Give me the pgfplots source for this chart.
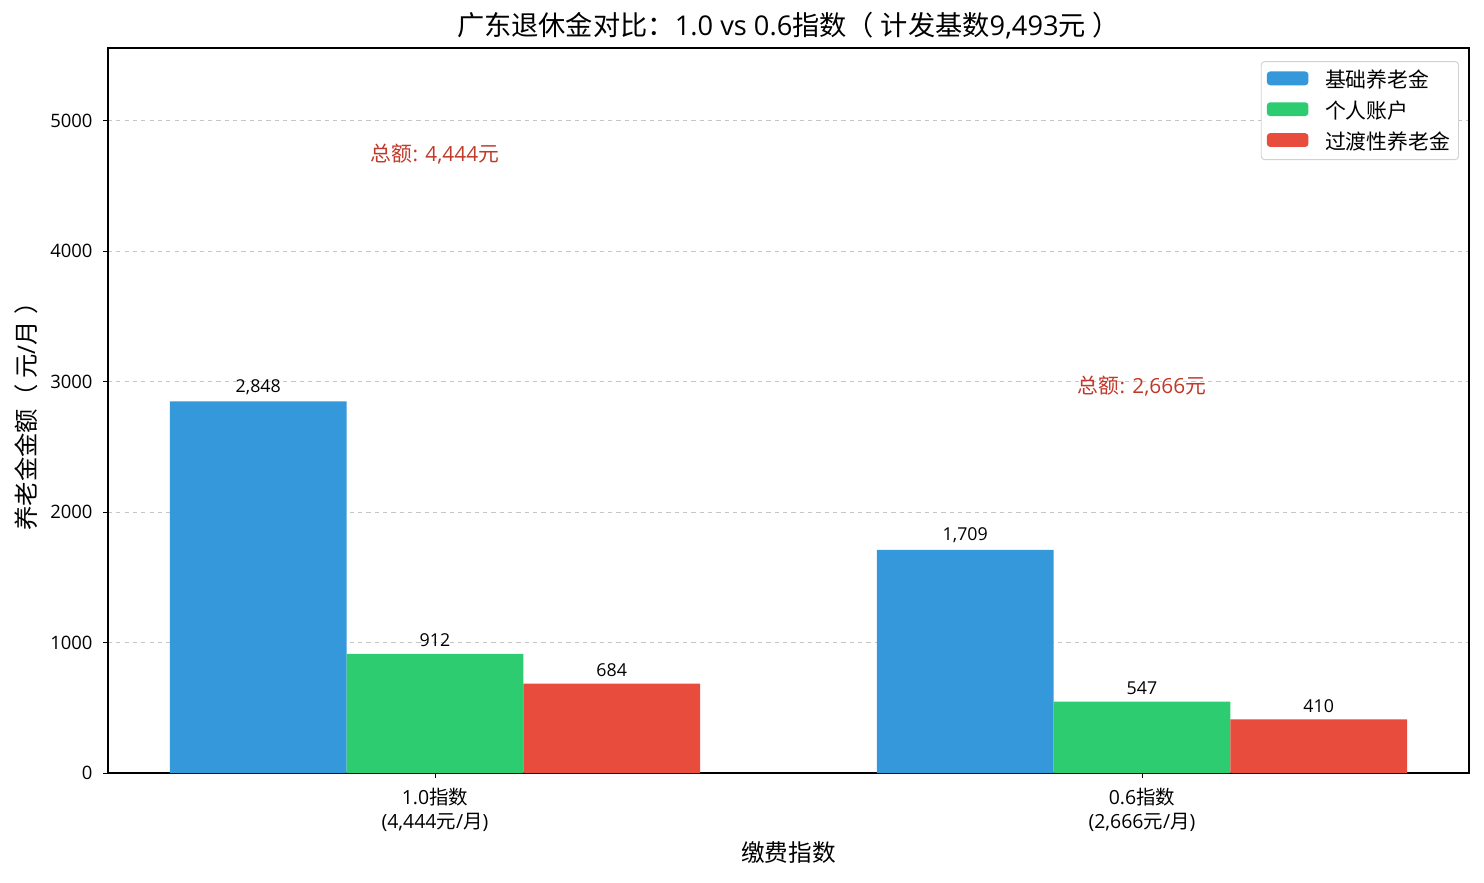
\documentclass[border=0pt]{standalone}
\usepackage{fontspec}
\setmainfont{Noto Sans CJK SC}
\newfontfamily\lat{Open Sans}
\usepackage{pgfplots}
\pgfplotsset{compat=1.18}
\definecolor{basic}{HTML}{3498DB}
\definecolor{personal}{HTML}{2ECC71}
\definecolor{transit}{HTML}{E74C3C}
\definecolor{totalred}{HTML}{C0392B}
\newcommand{\fs}[2]{\fontsize{#1}{#2}\selectfont}
\newcommand{\lp}{（\hspace{0.25em}}
\newcommand{\rp}{\hspace{0.25em}）}
\begin{document}
\begin{tikzpicture}
\path[use as bounding box] (-77.76pt,-78.48pt) rectangle (990.72pt,556.56pt);
\begin{axis}[
  at={(0pt,0pt)}, anchor=south west,
  scale only axis, width=979.9pt, height=522pt,
  /pgf/number format/assume math mode=true,
  xmin=-0.4625, xmax=1.4625,
  ymin=0, ymax=5555,
  xtick={0,1},
  xticklabels={{{\lat 1.0}指数\\{\lat (4,444}元{\lat /}月{\lat )}},{{\lat 0.6}指数\\{\lat (2,666}元{\lat /}月{\lat )}}},
  xticklabel style={align=center, font=\fs{14pt}{17.3pt}, inner sep=2pt, yshift=-5pt},
  ytick={0,1000,2000,3000,4000,5000},
  yticklabel style={font=\lat\fs{13.3pt}{16pt}, /pgf/number format/1000 sep={}, xshift=-4pt},
  tick pos=left, tick align=outside,
  major tick length=3.6pt,
  tick style={black, line width=0.6pt},
  axis line style={black, line width=0.8pt},
  ymajorgrids, grid style={dashed, gray!45, line width=0.6pt},
  xlabel={缴费指数},
  xlabel style={font=\fs{17pt}{20pt}, at={(axis description cs:0.5,-0.1103)}, anchor=center},
  ylabel={养老金金额\lp 元{\lat /}月\rp},
  ylabel style={font=\fs{17.5pt}{20pt}, at={(axis description cs:-0.06025,0.5)}, anchor=center},
  title={广东退休金对比：{\lat 1.0 vs 0.6}指数\lp 计发基数{\lat 9,493}元\rp},
  title style={font=\fs{19.6pt}{22pt}, at={(axis description cs:0.5,1.0195)}, anchor=center},
  ybar, bar width=0.25,
  every node near coord/.append style={font=\lat\fs{12.8pt}{15pt}, black, anchor=south, yshift=1.5pt},
  legend style={at={(0.99265,0.982)}, anchor=north east, font=\fs{15pt}{18pt},
    draw=gray!35, rounded corners=2.5pt, line width=0.7pt, inner xsep=4pt, inner ysep=4pt,
    row sep=4pt, cells={anchor=west}},
  legend image code/.code={\fill[#1] (0pt,-4pt) rectangle (30pt,6pt);},
]
\addplot[fill=basic, draw=none, bar shift=-0.25,
  nodes near coords={\pgfmathprintnumber[1000 sep={,}]{\pgfplotspointmeta}}]
  coordinates {(0,2848) (1,1709)};
\addlegendentry{\hspace{10pt}基础养老金}
\addplot[fill=personal, draw=none, bar shift=0,
  nodes near coords={\pgfmathprintnumber[1000 sep={,}]{\pgfplotspointmeta}}]
  coordinates {(0,912) (1,547)};
\addlegendentry{\hspace{10pt}个人账户}
\addplot[fill=transit, draw=none, bar shift=0.25,
  nodes near coords={\pgfmathprintnumber[1000 sep={,}]{\pgfplotspointmeta}}]
  coordinates {(0,684) (1,410)};
\addlegendentry{\hspace{10pt}过渡性养老金}
% totals, written 300 above each group
\addplot[draw=none, fill=none, forget plot, point meta=explicit symbolic,
  nodes near coords,
  every node near coord/.style={font=\fs{15pt}{18pt}, text=totalred, anchor=center}]
  coordinates {(0,4744) [总额{\lat : 4,444}元] (1,2966) [总额{\lat : 2,666}元]};
\end{axis}
\end{tikzpicture}
\end{document}
